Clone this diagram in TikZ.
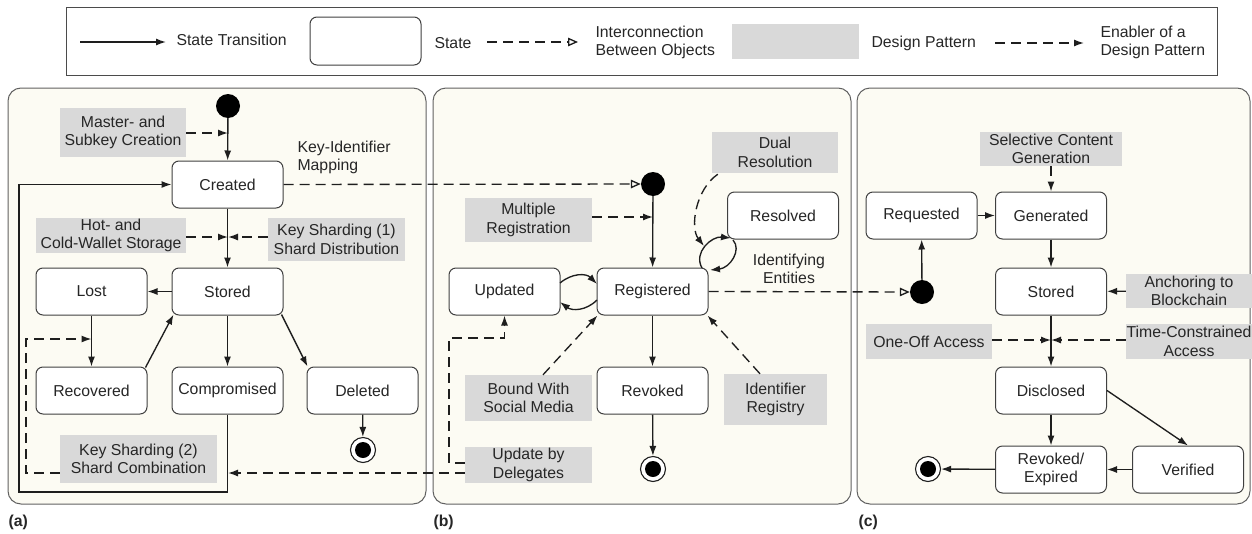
\documentclass[tikz,border=0pt]{standalone}
\usepackage{fontspec}
\setmainfont{Liberation Sans}
\usetikzlibrary{arrows.meta,calc}
\definecolor{panelbg}{HTML}{FCFBF3}
\definecolor{pat}{HTML}{D9D9D9}
\definecolor{txt}{HTML}{262626}
\definecolor{ln}{HTML}{1E1E1E}
\begin{document}
\begin{tikzpicture}[x=1pt,y=-1pt,font=\fontsize{15.8}{18.5}\selectfont,text=txt,
  state/.style={draw=ln!85,line width=1pt,rounded corners=7pt,fill=white,minimum width=111pt,minimum height=47pt,inner sep=0pt,align=center},
  patbox/.style={fill=pat,inner sep=0pt,align=center},
  trans/.style={draw=ln,line width=1.35pt,-{Latex[length=10pt,width=7pt]}},
  enab/.style={draw=ln,line width=1.35pt,dash pattern=on 10pt off 6pt,-{Latex[length=10pt,width=7pt]}},
  inter/.style={draw=ln,line width=1.35pt,dash pattern=on 10pt off 6pt,-{Triangle[open,length=10pt,width=8.5pt]}},
  panel/.style={draw=ln!70,line width=1pt,rounded corners=13pt,fill=panelbg},
  initdot/.style={circle,fill=black,minimum size=24pt,inner sep=0pt},
  finaldot/.style={circle,draw=ln,line width=1.1pt,fill=white,minimum size=25pt,inner sep=0pt,
    path picture={\fill[black] (path picture bounding box.center) circle (8pt);}},
  plabel/.style={font=\fontsize{15.8}{18}\selectfont\bfseries,anchor=west}]
\useasboundingbox (0,0) rectangle (1252,533);

% ---------------- legend ----------------
\draw[ln!80,line width=1pt] (66,7) rectangle (1217,75);
\coordinate (l1a) at (80,42); \coordinate (l1b) at (166,42);
\draw[trans] (l1a) -- (l1b);
\node[anchor=west] (lt1) at (173,40) {State Transition};
\node[state,minimum height=48pt] (ls) at (365.5,41) {};
\node[anchor=west] (lt2) at (431,43) {State};
\coordinate (l2a) at (487,42); \coordinate (l2b) at (578,42);
\draw[inter] (l2a) -- (l2b);
\node[anchor=west,align=left] (lt3) at (592,42.5) {Interconnection\\Between Objects};
\node[patbox,minimum width=127pt,minimum height=35pt] (lp) at (795.5,41.5) {};
\node[anchor=west] (lt4) at (868,43) {Design Pattern};
\coordinate (l3a) at (995,43); \coordinate (l3b) at (1084,43);
\draw[enab] (l3a) -- (l3b);
\node[anchor=west,align=left] (lt5) at (1097,42.5) {Enabler of a\\Design Pattern};

% ---------------- panels ----------------
\draw[panel] (8,88) rectangle (426,504);
\draw[panel] (433,88) rectangle (851,504);
\draw[panel] (857,88) rectangle (1250,504);
\node[plabel] (la) at (5,522) {(a)};
\node[plabel] (lb) at (430,522) {(b)};
\node[plabel] (lc) at (855,522) {(c)};

% ---------------- panel (a) ----------------
\node[initdot] (aInit) at (228,106) {};
\node[state] (aCreated) at (227.5,184.5) {Created};
\node[state] (aStored) at (227.5,291.5) {Stored};
\node[state] (aLost) at (91.5,291.5) {Lost};
\node[state] (aRecovered) at (91.5,390.5) {Recovered};
\node[state] (aComp) at (227.5,390.5) {Compromised};
\node[state] (aDeleted) at (362.5,390.5) {Deleted};
\node[finaldot] (aFinal) at (363,450) {};

\node[patbox,minimum width=126pt,minimum height=49pt] (pMaster) at (123,132.5) {Master- and\\Subkey Creation};
\node[patbox,minimum width=150pt,minimum height=35pt] (pHot) at (111,235.5) {Hot- and\\Cold-Wallet Storage};
\node[patbox,minimum width=137pt,minimum height=43pt] (pKS1) at (336.5,239.5) {Key Sharding (1)\\Shard Distribution};
\node[patbox,minimum width=157pt,minimum height=48pt] (pKS2) at (138.5,459) {Key Sharding (2)\\Shard Combination};
\node[anchor=west,align=left] (tKIM) at (294,157.5) {Key-Identifier\\Mapping};

\coordinate (em) at (228,133);
\coordinate (eh) at (228,237);
\coordinate (c1) at (19,492);
\coordinate (kk) at (26,339);
\coordinate (kt) at (91.5,339);
\coordinate (ucA) at (228,473);

\draw[trans] (aInit) -- (aCreated);
\draw[enab] (pMaster.east |- em) -- (em);
\draw[trans] (aCreated) -- (aStored);
\draw[enab] (pHot.east |- eh) -- (eh);
\draw[enab] (pKS1.west |- eh) -- (eh);
\draw[trans] (aStored) -- (aLost);
\draw[trans] (aLost) -- (aRecovered);
\draw[trans] ($(aRecovered.north east)+(-2,1)$) -- ($(aStored.south west)+(2,-1)$);
\draw[trans] (aStored) -- (aComp);
\draw[trans] ($(aStored.south east)+(-2,-1)$) -- ($(aDeleted.north west)+(1,0)$);
\draw[trans] (aDeleted) -- (aFinal);
\draw[trans] (aComp.south) |- (c1) |- (aCreated.west);
\draw[enab] ([yshift=-14pt]pKS2.west) -| (kk) -- (kt);

% ---------------- panel (b) ----------------
\node[initdot] (bInit) at (653,184) {};
\node[state] (bRegistered) at (652.5,291.5) {Registered};
\node[state] (bUpdated) at (504.5,291.5) {Updated};
\node[state] (bResolved) at (783,215.5) {Resolved};
\node[state] (bRevoked) at (652.5,390.5) {Revoked};
\node[finaldot] (bFinal) at (653,469) {};

\node[patbox,minimum width=127pt,minimum height=44pt] (pMulti) at (528.5,220) {Multiple\\Registration};
\node[patbox,minimum width=126pt,minimum height=41pt] (pDual) at (775,152.5) {Dual\\Resolution};
\node[patbox,minimum width=127pt,minimum height=46pt] (pBound) at (528.5,398) {Bound With\\Social Media};
\node[patbox,minimum width=103pt,minimum height=51pt] (pIdReg) at (775.5,399.5) {Identifier\\Registry};
\node[patbox,minimum width=127pt,minimum height=36pt] (pUpdate) at (528.5,465) {Update by\\Delegates};
\node[align=center] (tIE) at (789,269) {Identifying\\Entities};

\coordinate (mr) at (653,217);
\coordinate (u1) at (449,338);

\draw[inter] (aCreated.east) -- (bInit.west);
\draw[trans] (bInit) -- (bRegistered);
\draw[enab] (pMulti.east |- mr) -- (mr);
\draw[enab] ($(pDual.south west)+(6,1)$) .. controls (695,190) and (690,228) .. (704,246);
\draw[trans] (702,268) .. controls (693,252) and (712,236) .. (731,238);
\draw[trans] (733,240) .. controls (742,250) and (730,268) .. (710,270);
\draw[trans] (560,283) .. controls (572,273) and (586,273) .. (597,284);
\draw[trans] (597,300) .. controls (586,311) and (572,311) .. (560,302);
\draw[trans] (bRegistered) -- (bRevoked);
\draw[trans] (bRevoked) -- (bFinal);
\draw[enab] ([xshift=14.5pt]pBound.north) -- ($(bRegistered.south west)+(1,0)$);
\draw[enab] ([xshift=-15.5pt]pIdReg.north) -- ($(bRegistered.south east)+(-1,0)$);
\draw[enab] ([yshift=2pt]pUpdate.west) -| (u1) -| (bUpdated.south);
\draw[enab] ([yshift=-8pt]pUpdate.west) -- (ucA);

% ---------------- panel (c) ----------------
\node[initdot] (cInit) at (922,292) {};
\node[state] (cRequested) at (921.5,215.5) {Requested};
\node[state] (cGenerated) at (1051,215.5) {Generated};
\node[state] (cStored) at (1051,291.5) {Stored};
\node[state] (cDisclosed) at (1051,390.5) {Disclosed};
\node[state] (cRevoked) at (1051,469.5) {Revoked/\\Expired};
\node[state] (cVerified) at (1188,469.5) {Verified};
\node[finaldot] (cFinal) at (928,469) {};

\node[patbox,minimum width=142pt,minimum height=34pt] (pSel) at (1051,149) {Selective Content\\Generation};
\node[patbox,minimum width=126pt,minimum height=34pt] (pAnchor) at (1189,291) {Anchoring to\\Blockchain};
\node[patbox,minimum width=126pt,minimum height=35pt] (pOneOff) at (929,341.5) {One-Off Access};
\node[patbox,minimum width=126pt,minimum height=35pt] (pTime) at (1189,341.5) {Time-Constrained\\Access};

\coordinate (ea) at (1051,340);

\draw[inter] (bRegistered.east) -- (cInit.west);
\draw[trans] (cInit) -- (cRequested);
\draw[trans] (cRequested) -- (cGenerated);
\draw[enab] (pSel) -- (cGenerated);
\draw[trans] (cGenerated) -- (cStored);
\draw[enab] (pAnchor) -- (cStored);
\draw[trans] (cStored) -- (cDisclosed);
\draw[enab] (pOneOff.east |- ea) -- (ea);
\draw[enab] (pTime.west |- ea) -- (ea);
\draw[trans] (cDisclosed) -- (cRevoked);
\draw[trans] (cDisclosed.east) -- (cVerified.north);
\draw[trans] (cVerified) -- (cRevoked);
\draw[trans] (cRevoked) -- (cFinal);
\end{tikzpicture}
\end{document}
